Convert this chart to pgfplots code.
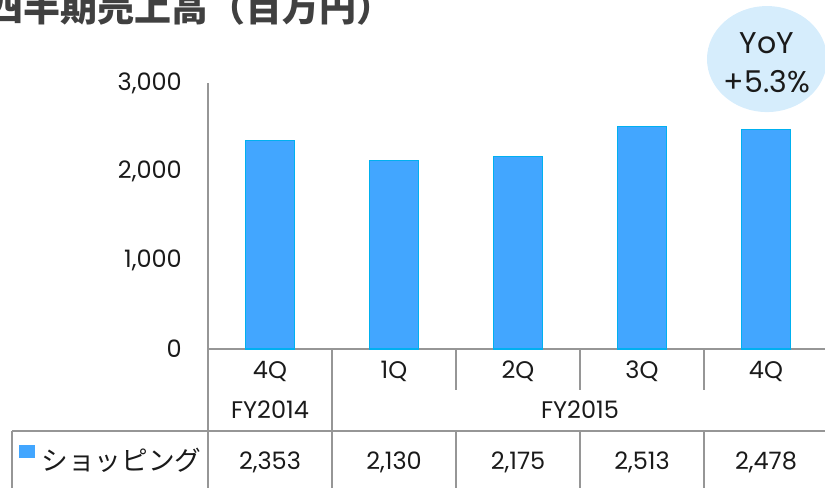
\documentclass[border=0pt]{standalone}
\usepackage{pgfplots}
\usepackage{pgfplotstable}
\pgfplotsset{compat=1.18}
\usepackage{fontspec}
\setmainfont{Poppins}
\newfontfamily\cjk{Noto Sans CJK JP}
\definecolor{barfill}{RGB}{66,166,255}
\definecolor{baredge}{RGB}{0,176,240}
\definecolor{gridc}{RGB}{150,150,150}
\definecolor{yoy}{RGB}{214,237,252}
\definecolor{titlec}{RGB}{64,64,64}
\definecolor{txt}{RGB}{26,26,26}
\pgfplotstableread{
x v
0 2353
1 2130
2 2175
3 2513
4 2478
}\sales
\begin{document}
\begin{tikzpicture}
\useasboundingbox (0,0) rectangle (618.75pt,366pt);
\clip (0,0) rectangle (618.75pt,366pt);
\node[anchor=base west, inner sep=0, font=\cjk\bfseries\fontsize{27.75pt}{30pt}\selectfont, text=titlec] at (-10.5pt,349.5pt) {四半期売上高（百万円）};
\begin{axis}[
  at={(156pt,104.25pt)}, anchor=south west,
  scale only axis, width=465pt, height=199.5pt,
  xmin=-0.5, xmax=4.5, ymin=0, ymax=3000, clip=false,
  axis x line=bottom, axis y line=left,
  axis line style={draw=gridc, line width=1.4pt, -},
  ytick={0,1000,2000,3000},
  xtick={0,1,2,3,4}, xticklabels={4Q,1Q,2Q,3Q,4Q},
  major tick length=0,
  /pgf/number format/assume math mode=true,
  /pgf/number format/1000 sep={,},
  yticklabel style={anchor=east, inner sep=0, xshift=-19.5pt, font=\fontsize{18pt}{20pt}\selectfont, text=txt},
  xticklabel style={anchor=center, inner sep=0, yshift=-16.5pt, font=\fontsize{18pt}{20pt}\selectfont, text=txt},
]
\addplot[ybar, bar width=0.4, fill=barfill, draw=baredge, line width=0.8pt] table[x=x, y=v] {\sales};
% table lines
\draw[gridc, line width=1.4pt] (axis cs:-0.5,0) -- (axis cs:-0.5,-1600);
\draw[gridc, line width=1.4pt] (axis cs:0.5,0) -- (axis cs:0.5,-1600);
\pgfplotsinvokeforeach{1.5,2.5,3.5,4.5}{
  \draw[gridc, line width=1.4pt] (axis cs:#1,0) -- (axis cs:#1,-462);
  \draw[gridc, line width=1.4pt] (axis cs:#1,-925) -- (axis cs:#1,-1600);
}
\draw[gridc, line width=1.4pt] (axis cs:-2.08,-925) -- (axis cs:4.6,-925);
\draw[gridc, line width=1.4pt] (axis cs:-2.08,-925) -- (axis cs:-2.08,-1600);
% FY labels
\node[font=\fontsize{18pt}{20pt}\selectfont, text=txt] at (axis cs:0,-688) {FY2014};
\node[font=\fontsize{18pt}{20pt}\selectfont, text=txt] at (axis cs:2.5,-688) {FY2015};
% data row
\node[font=\fontsize{18pt}{20pt}\selectfont, text=txt] at (axis cs:0,-1274) {2,353};
\node[font=\fontsize{18pt}{20pt}\selectfont, text=txt] at (axis cs:1,-1274) {2,130};
\node[font=\fontsize{18pt}{20pt}\selectfont, text=txt] at (axis cs:2,-1274) {2,175};
\node[font=\fontsize{18pt}{20pt}\selectfont, text=txt] at (axis cs:3,-1274) {2,513};
\node[font=\fontsize{18pt}{20pt}\selectfont, text=txt] at (axis cs:4,-1274) {2,478};
% legend
\fill[barfill] (axis cs:-2.024,-1083) rectangle (axis cs:-1.895,-1229);
\node[anchor=west, inner sep=0, font=\cjk\fontsize{20pt}{22pt}\selectfont, text=txt] at (axis cs:-1.845,-1260) {ショッピング};
% YoY bubble
\fill[yoy] (axis cs:4.008,3270) ellipse [x radius=45pt, y radius=39.75pt];
\node[font=\fontsize{22.5pt}{24pt}\selectfont, text=txt] at (axis cs:4.008,3450) {YoY};
\node[font=\fontsize{22.5pt}{24pt}\selectfont, text=txt] at (axis cs:4.008,3010) {+5.3\%};
\end{axis}
\end{tikzpicture}
\end{document}
